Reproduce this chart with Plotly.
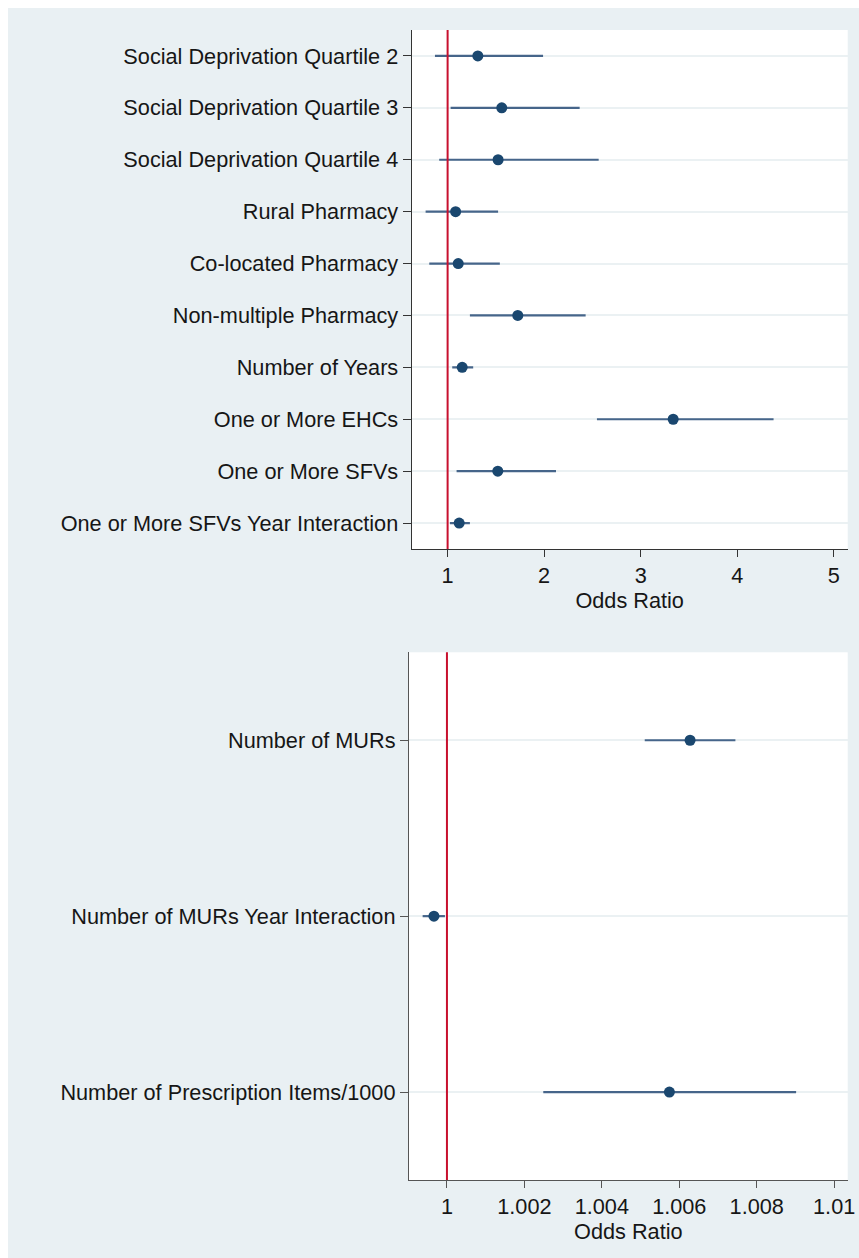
import plotly.graph_objects as go

# Panel A: pharmacy characteristics
labels_a = [
    "Social Deprivation Quartile 2",
    "Social Deprivation Quartile 3",
    "Social Deprivation Quartile 4",
    "Rural Pharmacy",
    "Co-located Pharmacy",
    "Non-multiple Pharmacy",
    "Number of Years",
    "One or More EHCs",
    "One or More SFVs",
    "One or More SFVs Year Interaction",
]
or_a = [1.313, 1.561, 1.523, 1.083, 1.110, 1.727, 1.151, 3.337, 1.520, 1.120]
lo_a = [0.869, 1.031, 0.913, 0.772, 0.810, 1.231, 1.048, 2.547, 1.093, 1.024]
hi_a = [1.989, 2.368, 2.565, 1.523, 1.541, 2.430, 1.265, 4.377, 2.123, 1.231]
ticks_a = [1, 2, 3, 4, 5]

# Panel B: activity volumes
labels_b = [
    "Number of MURs",
    "Number of MURs Year Interaction",
    "Number of Prescription Items/1000",
]
or_b = [1.006279, 0.999664, 1.005745]
lo_b = [1.005108, 0.999372, 1.002488]
hi_b = [1.007450, 0.999948, 1.009018]
ticks_b = [1, 1.002, 1.004, 1.006, 1.008, 1.01]
tick_text_b = ["1", "1.002", "1.004", "1.006", "1.008", "1.01"]

null_value = 1  # odds ratio of no effect

W, H = 859, 1258
BG = "#e9f0f3"
NAVY = "#1a476f"
CI_COL = "#46658a"
RED = "#c8102e"
FONT = "Liberation Sans, Arial, Helvetica, sans-serif"
FS = 21.7
TXT = "#161616"


def px_x(p):
    return p / W


def px_y(p):
    return 1 - p / H


fig = go.Figure()


def add_panel(labels, est, lo, hi, xa, ya):
    xs, ys = [], []
    for lab, a, b in zip(labels, lo, hi):
        xs += [a, b, None]
        ys += [lab, lab, None]
    fig.add_trace(go.Scatter(
        x=xs, y=ys, mode="lines", xaxis=xa, yaxis=ya,
        line=dict(color=CI_COL, width=2.2), hoverinfo="skip", showlegend=False,
    ))
    fig.add_trace(go.Scatter(
        x=est, y=labels, mode="markers", xaxis=xa, yaxis=ya,
        marker=dict(color=NAVY, size=11), showlegend=False,
    ))


add_panel(labels_a, or_a, lo_a, hi_a, "x", "y")
add_panel(labels_b, or_b, lo_b, hi_b, "x2", "y2")


def axis_style(length):
    return dict(
        showline=True, linewidth=1.3, ticks="outside", ticklen=length, tickwidth=1.2,
        tickfont=dict(family=FONT, size=FS, color=TXT), zeroline=False,
        automargin=False,
    )


title_font = dict(family=FONT, size=FS, color=TXT)

fig.update_layout(
    width=W, height=H,
    margin=dict(l=0, r=0, t=0, b=0, pad=0),
    paper_bgcolor=BG, plot_bgcolor="white",
    font=dict(family=FONT, size=FS, color=TXT),
    xaxis=dict(
        **axis_style(7), domain=[px_x(411.7), px_x(847.7)], anchor="y",
        range=[0.628, 5.145], tickvals=ticks_a, showgrid=False,
        linecolor="#333", tickcolor="#333",
        title=dict(text="Odds Ratio", font=title_font, standoff=1),
    ),
    yaxis=dict(
        **axis_style(8), domain=[px_y(549), px_y(30)], anchor="x",
        type="category", categoryarray=labels_a,
        range=[len(labels_a) - 0.5, -0.5],
        showgrid=True, gridcolor="#ebf1f3", gridwidth=1.5,
        linecolor="#333", tickcolor="#333",
    ),
    xaxis2=dict(
        **axis_style(7), domain=[px_x(409), px_x(847.7)], anchor="y2",
        range=[0.99902, 1.01035], tickvals=ticks_b, ticktext=tick_text_b, showgrid=False,
        linecolor="#555", tickcolor="#555",
        title=dict(text="Odds Ratio", font=title_font, standoff=1),
    ),
    yaxis2=dict(
        **axis_style(8), domain=[px_y(1180), px_y(652.3)], anchor="x2",
        type="category", categoryarray=labels_b,
        range=[len(labels_b) - 0.5, -0.5],
        showgrid=True, gridcolor="#ebf1f3", gridwidth=1.5,
        linecolor="#555", tickcolor="#555",
    ),
    shapes=[
        # thin white border along the left and top edges of the page
        dict(type="rect", xref="paper", yref="paper", x0=0, x1=px_x(8), y0=0, y1=1,
             fillcolor="white", line=dict(width=0), layer="below"),
        dict(type="rect", xref="paper", yref="paper", x0=0, x1=1, y0=px_y(8), y1=1,
             fillcolor="white", line=dict(width=0), layer="below"),
        # reference lines at the null odds ratio, full plot height
        dict(type="line", xref="x", yref="y domain", x0=null_value, x1=null_value, y0=0, y1=1,
             line=dict(color=RED, width=2), layer="above"),
        dict(type="line", xref="x2", yref="y2 domain", x0=null_value, x1=null_value, y0=0, y1=1,
             line=dict(color=RED, width=2), layer="above"),
    ],
)

fig.write_html("out.html")
